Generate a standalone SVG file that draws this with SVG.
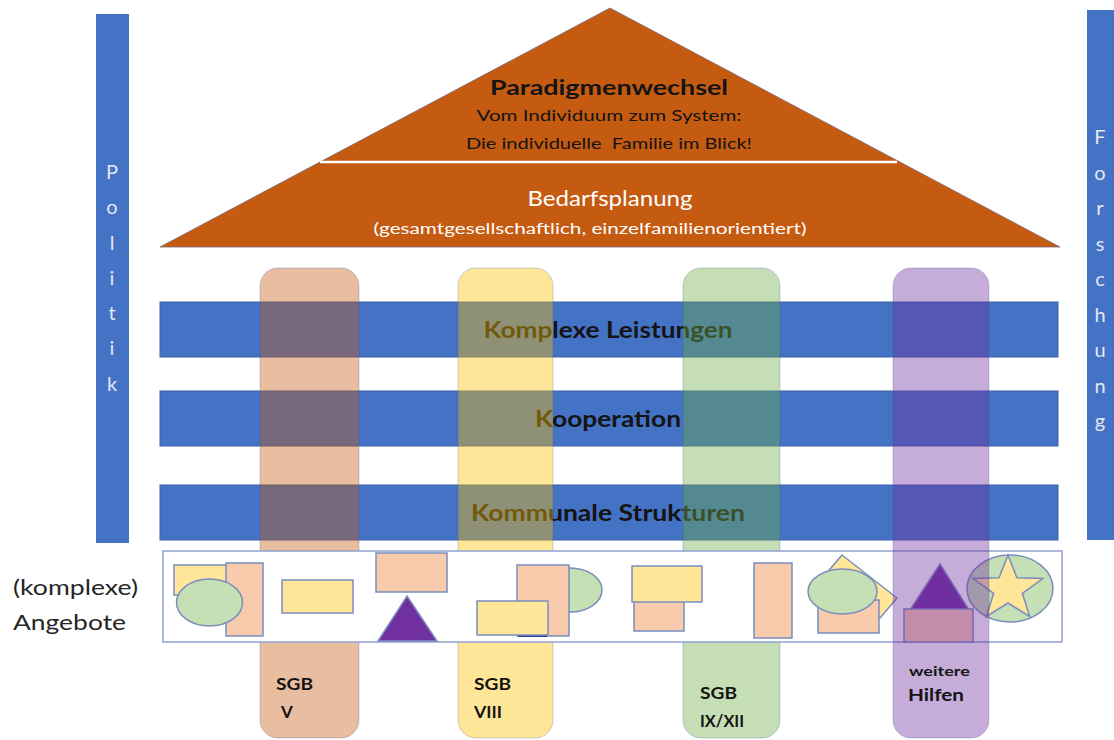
<svg xmlns="http://www.w3.org/2000/svg" width="1114" height="740" viewBox="0 0 1114 740">
<style>
  text { font-family: Lato, "Open Sans", "Liberation Sans", sans-serif; }
  .b { font-weight: bold; }
  .dark { fill: #141414; }
  .white { fill: #ffffff; }
  .side { fill: #E3E9F5; font-size: 20px; text-anchor: middle; }
  .bar { fill: #4472C4; }
  .band { fill: #4472C4; stroke: #3A62A8; stroke-width: 1; }
  .pillar { fill-opacity: 0.4; stroke: #2F528F; stroke-opacity: 0.25; stroke-width: 1; }
  .shp { stroke: #7A8DBE; stroke-width: 1.5; }
  .y { fill: #FFE699; }
  .p { fill: #F8CBAD; }
  .g { fill: #C5E0B4; }
  .v { fill: #7030A0; }
  .lbl { font-weight: bold; fill: #141414; }
</style>

<g id="politik">
  <rect class="bar" x="96" y="14" width="33" height="529"/>
  <text class="side" x="112" y="179">P</text>
  <text class="side" x="112" y="214">o</text>
  <text class="side" x="112" y="250">l</text>
  <text class="side" x="112" y="285">i</text>
  <text class="side" x="112" y="320">t</text>
  <text class="side" x="112" y="355">i</text>
  <text class="side" x="112" y="391">k</text>
</g>

<g id="forschung">
  <rect class="bar" x="1087" y="10" width="30" height="530"/>
  <text class="side" x="1100" y="144">F</text>
  <text class="side" x="1100" y="180">o</text>
  <text class="side" x="1100" y="215">r</text>
  <text class="side" x="1100" y="251">s</text>
  <text class="side" x="1100" y="286">c</text>
  <text class="side" x="1100" y="322">h</text>
  <text class="side" x="1100" y="357">u</text>
  <text class="side" x="1100" y="393">n</text>
  <text class="side" x="1100" y="428">g</text>
</g>

<g id="roof">
  <polygon points="160,247 610,8 1060,247" fill="#C55A11" stroke="#7A6A78" stroke-width="0.8"/>
  <line x1="320" y1="162" x2="897" y2="162" stroke="#ffffff" stroke-width="2.5"/>
  <text class="b dark" x="609" y="95" font-size="21" text-anchor="middle" textLength="238" lengthAdjust="spacingAndGlyphs">Paradigmenwechsel</text>
  <text class="dark" x="609" y="121" font-size="15" text-anchor="middle" textLength="265" lengthAdjust="spacingAndGlyphs">Vom Individuum zum System:</text>
  <text class="dark" x="609" y="149" font-size="15" text-anchor="middle" textLength="286" lengthAdjust="spacingAndGlyphs" xml:space="preserve">Die individuelle  Familie im Blick!</text>
  <text class="white" x="610" y="206" font-size="21" text-anchor="middle" textLength="165" lengthAdjust="spacingAndGlyphs">Bedarfsplanung</text>
  <text class="white" x="590" y="234" font-size="15.5" text-anchor="middle" textLength="433" lengthAdjust="spacingAndGlyphs">(gesamtgesellschaftlich, einzelfamilienorientiert)</text>
</g>

<g id="band-leistungen">
  <rect class="band" x="160" y="302" width="898" height="55"/>
  <text class="b dark" x="608" y="338" font-size="22" text-anchor="middle" textLength="249" lengthAdjust="spacingAndGlyphs">Komplexe Leistungen</text>
</g>
<g id="band-kooperation">
  <rect class="band" x="160" y="391" width="898" height="55"/>
  <text class="b dark" x="608" y="427" font-size="22" text-anchor="middle" textLength="146" lengthAdjust="spacingAndGlyphs">Kooperation</text>
</g>
<g id="band-strukturen">
  <rect class="band" x="160" y="485" width="898" height="55"/>
  <text class="b dark" x="608" y="521" font-size="22" text-anchor="middle" textLength="274" lengthAdjust="spacingAndGlyphs">Kommunale Strukturen</text>
</g>

<g id="pillar-sgb-v">
  <rect class="pillar" x="260" y="268" width="99" height="470" rx="18" fill="#C55A11"/>
</g>
<g id="pillar-sgb-viii">
  <rect class="pillar" x="458" y="268" width="95" height="470" rx="18" fill="#FFC000"/>
</g>
<g id="pillar-sgb-ix-xii">
  <rect class="pillar" x="683" y="268" width="97" height="470" rx="18" fill="#70AD47"/>
</g>

<g id="angebote">
  <rect x="163" y="551" width="899" height="91" fill="#ffffff" stroke="#8FA2CF" stroke-width="1.5"/>
  <rect class="shp y" x="174" y="565" width="53" height="30"/>
  <rect class="shp p" x="226" y="563" width="37" height="73"/>
  <ellipse class="shp g" cx="209.5" cy="602.5" rx="33" ry="23.5"/>
  <rect class="shp y" x="282" y="580" width="71" height="33"/>
  <rect class="shp p" x="376" y="553" width="71" height="39"/>
  <polygon class="shp v" points="407,596 437,641 378,641" stroke="none"/>
  <ellipse class="shp g" cx="570" cy="590" rx="32" ry="22"/>
  <rect class="shp p" x="517" y="565" width="52" height="71"/>
  <rect x="518" y="628" width="29" height="9" fill="#2F3F8F"/>
  <rect class="shp y" x="477" y="601" width="71" height="34"/>
  <rect class="shp p" x="634" y="598" width="50" height="33"/>
  <rect class="shp y" x="632" y="566" width="70" height="36"/>
  <rect class="shp p" x="754" y="563" width="38" height="75"/>
  <polygon class="shp y" points="842,555 897,598 880,618 825,575"/>
  <rect class="shp p" x="818" y="600" width="61" height="33"/>
  <ellipse class="shp g" cx="842.5" cy="591.5" rx="34.5" ry="22.5"/>
  <polygon class="shp v" points="940,564 969,610 910,610" stroke="none"/>
  <rect class="shp p" x="904" y="609" width="69" height="33"/>
  <ellipse class="shp g" cx="1010" cy="588.5" rx="43" ry="33.5"/>
  <polygon class="shp y" points="1008,555 1016.9,577.7 1042.9,578.5 1022.4,593.3 1029.6,616.5 1008,603 986.4,616.5 993.6,593.3 973.1,578.5 999.1,577.7"/>
  <text x="13" y="595" font-size="21" fill="#262626" textLength="125" lengthAdjust="spacingAndGlyphs">(komplexe)</text>
  <text x="13" y="630" font-size="21" fill="#262626" textLength="113" lengthAdjust="spacingAndGlyphs">Angebote</text>
</g>

<g id="pillar-weitere-hilfen">
  <rect class="pillar" x="893" y="268" width="96" height="470" rx="18" fill="#7030A0"/>
</g>

<g id="pillar-labels">
  <text class="lbl" x="276" y="690" font-size="17" textLength="37" lengthAdjust="spacingAndGlyphs">SGB</text>
  <text class="lbl" x="281" y="718" font-size="17">V</text>
  <text class="lbl" x="474" y="690" font-size="17" textLength="37" lengthAdjust="spacingAndGlyphs">SGB</text>
  <text class="lbl" x="474" y="718" font-size="17" textLength="28" lengthAdjust="spacingAndGlyphs">VIII</text>
  <text class="lbl" x="700" y="699" font-size="17" textLength="37" lengthAdjust="spacingAndGlyphs">SGB</text>
  <text class="lbl" x="700" y="727" font-size="17" textLength="44" lengthAdjust="spacingAndGlyphs">IX/XII</text>
  <text class="lbl" x="909" y="676" font-size="12.5" textLength="61" lengthAdjust="spacingAndGlyphs">weitere</text>
  <text class="lbl" x="908" y="701" font-size="17" textLength="56" lengthAdjust="spacingAndGlyphs">Hilfen</text>
</g>

<g id="connectors"/>
</svg>
